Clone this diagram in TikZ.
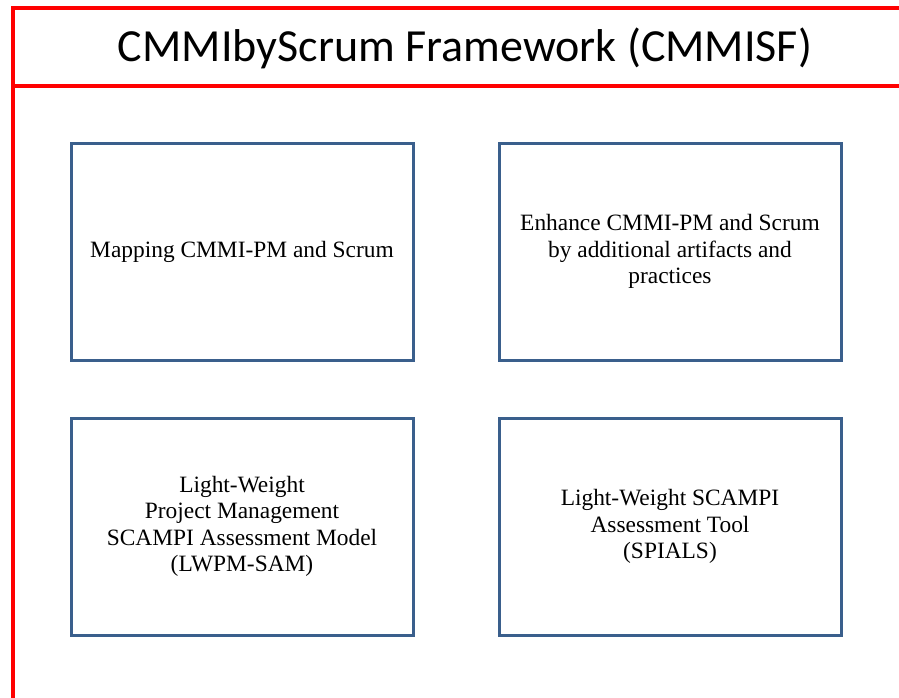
\documentclass[tikz,border=0pt]{standalone}
\usepackage{fontspec}
\setmainfont{Liberation Serif}
\newfontfamily\titlefont{Carlito}
\definecolor{boxblue}{RGB}{58,95,140}
\begin{document}
\begin{tikzpicture}[x=1pt,y=-1pt,
  frameline/.style={draw=red,line width=4pt},
  panel/.style={draw=boxblue,line width=3pt,minimum width=342pt,minimum height=217pt,
    align=center,inner sep=0pt,font=\fontsize{23.4}{26.5}\selectfont}]
\useasboundingbox (0,0) rectangle (899,698);
\coordinate (tl) at (13,8);
\coordinate (tr) at (905,8);
\coordinate (bl) at (13,705);
\coordinate (ml) at (13,86);
\coordinate (mr) at (905,86);
\draw[frameline] (tr) -- (tl) -- (bl);
\draw[frameline] (ml) -- (mr);
\node[anchor=base,inner sep=0pt,font=\titlefont\fontsize{46}{50}\selectfont] (title) at (465,62) {CMMIbyScrum Framework (CMMISF)};
\node[panel] (map) at (242,251.5) {Mapping CMMI-PM and Scrum};
\node[panel] (enh) at (670,251.5) {Enhance CMMI-PM and Scrum\\by additional artifacts and\\practices};
\node[panel] (lwpm) at (242,526.5) {Light-Weight\\Project Management\\SCAMPI Assessment Model\\(LWPM-SAM)};
\node[panel] (spials) at (670,526.5) {Light-Weight SCAMPI\\Assessment Tool\\(SPIALS)};
\end{tikzpicture}
\end{document}
